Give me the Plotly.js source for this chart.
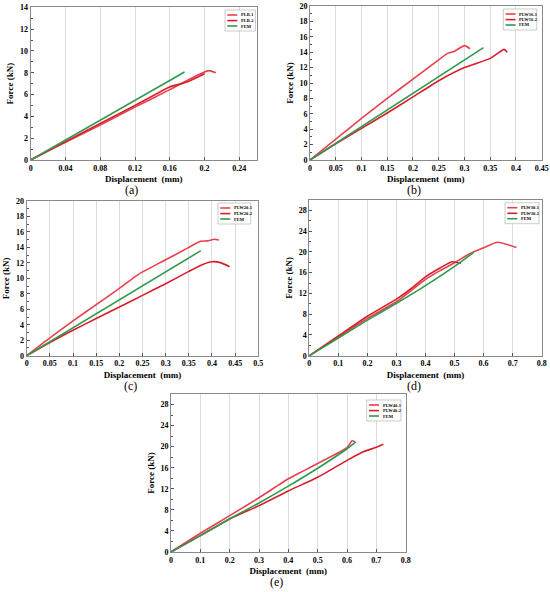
<!DOCTYPE html>
<html>
<head>
<meta charset="utf-8">
<script src="https://cdn.plot.ly/plotly-3.0.1.min.js"></script>
<style>html,body{margin:0;padding:0;background:#fff;}#chart{width:550px;height:592px;}</style>
</head>
<body>
<div id="chart"></div>
<script>
// ---- (a) PLB ----
const aNames = ['PLB-1', 'PLB-2', 'FEM'];
const aX1 = [0, 0.02, 0.04, 0.08, 0.12, 0.16, 0.19, 0.205, 0.213];
const aY1 = [0, 0.82, 1.62, 3.2, 4.85, 6.45, 7.7, 8.19, 8.0];
const aX2 = [0, 0.02, 0.04, 0.08, 0.12, 0.16, 0.18, 0.2];
const aY2 = [0, 0.85, 1.68, 3.35, 5.0, 6.7, 7.15, 7.9];
const aXF = [0, 0.177];
const aYF = [0, 8.07];
// ---- (b) PLW16 ----
const bNames = ['PLW16-1', 'PLW16-2', 'FEM'];
const bX1 = [0, 0.05, 0.1, 0.15, 0.2, 0.25, 0.267, 0.28, 0.3, 0.311];
const bY1 = [0, 2.7, 5.4, 8.0, 10.5, 13.0, 13.85, 14.1, 14.85, 14.45];
const bX2 = [0, 0.05, 0.1, 0.15, 0.2, 0.25, 0.3, 0.35, 0.377, 0.383];
const bY2 = [0, 2.1, 4.1, 6.1, 8.2, 10.3, 12.0, 13.2, 14.37, 14.0];
const bXF = [0, 0.337];
const bYF = [0, 14.6];
// ---- (c) PLW20 ----
const cNames = ['PLW20-1', 'PLW20-2', 'FEM'];
const cX1 = [0, 0.05, 0.1, 0.15, 0.2, 0.242, 0.3, 0.35, 0.375, 0.39, 0.405, 0.415];
const cY1 = [0, 2.3, 4.5, 6.6, 8.7, 10.55, 12.4, 14.0, 14.8, 14.85, 15.05, 14.95];
const cX2 = [0, 0.05, 0.1, 0.15, 0.2, 0.25, 0.3, 0.35, 0.38, 0.4, 0.42, 0.438];
const cY2 = [0, 1.7, 3.3, 4.8, 6.3, 7.8, 9.3, 10.9, 11.8, 12.15, 12.0, 11.5];
const cXF = [0, 0.376];
const cYF = [0, 13.58];
// ---- (d) PLW30 ----
const dNames = ['PLW30-1', 'PLW30-2', 'FEM'];
const dX1 = [0, 0.1, 0.2, 0.3, 0.35, 0.4, 0.45, 0.5, 0.55, 0.6, 0.648, 0.713];
const dY1 = [0, 3.6, 7.2, 10.4, 12.5, 14.7, 16.4, 17.9, 19.6, 20.8, 21.85, 20.85];
const dX2 = [0, 0.1, 0.2, 0.3, 0.35, 0.4, 0.45, 0.491, 0.522];
const dY2 = [0, 3.8, 7.6, 10.9, 12.9, 15.2, 16.9, 18.1, 17.8];
const dXF = [0, 0.1, 0.2, 0.3, 0.4, 0.5, 0.566];
const dYF = [0, 3.4, 6.85, 10.1, 13.5, 17.2, 19.9];
// ---- (e) PLW40 ----
const eNames = ['PLW40-1', 'PLW40-2', 'FEM'];
const eX1 = [0, 0.1, 0.2, 0.3, 0.4, 0.45, 0.5, 0.6, 0.617, 0.627];
const eY1 = [0, 3.55, 6.9, 10.3, 13.9, 15.35, 16.8, 19.8, 21.1, 20.95];
const eX2 = [0, 0.1, 0.2, 0.3, 0.4, 0.5, 0.6, 0.65, 0.7, 0.724];
const eY2 = [0, 3.1, 6.26, 8.8, 11.6, 14.2, 17.4, 18.9, 19.9, 20.45];
const eXF = [0, 0.1, 0.2, 0.3, 0.4, 0.5, 0.6, 0.63];
const eYF = [0, 3.1, 6.3, 9.3, 12.5, 15.9, 19.6, 20.9];

const panelLabels = ['(a)', '(b)', '(c)', '(d)', '(e)'];

const C1 = '#e8414d', C2 = '#d81e2a', CF = '#2e9a4f';
const FONT = 'Liberation Serif, Times New Roman, serif';

const panels = [
  {names: aNames, s: [[aX1, aY1], [aX2, aY2], [aXF, aYF]], xr: [0, 0.26], xd: 0.04, yr: [0, 14], yd: 2,
   dom: [30.7, 256.7, 7.3, 160], leg: [225, 10, 30.5]},
  {names: bNames, s: [[bX1, bY1], [bX2, bY2], [bXF, bYF]], xr: [0, 0.45], xd: 0.05, yr: [0, 20], yd: 2,
   dom: [310, 541.7, 6, 160], leg: [503.3, 9, 33.4]},
  {names: cNames, s: [[cX1, cY1], [cX2, cY2], [cXF, cYF]], xr: [0, 0.5], xd: 0.05, yr: [0, 20], yd: 2,
   dom: [26.7, 258.3, 201, 355.7], leg: [218, 203, 32.7]},
  {names: dNames, s: [[dX1, dY1], [dX2, dY2], [dXF, dYF]], xr: [0, 0.8], xd: 0.1, yr: [0, 30], yd: 4,
   dom: [309.3, 541.7, 200, 355.7], leg: [505, 202.7, 34]},
  {names: eNames, s: [[eX1, eY1], [eX2, eY2], [eXF, eYF]], xr: [0, 0.8], xd: 0.1, yr: [0, 30], yd: 4,
   dom: [171, 405.7, 394, 552], leg: [366.7, 400, 34.3]}
];

const W = 550, H = 592;
const px = v => v / W, py = v => 1 - v / H;
const traces = [];
const layout = {
  width: W, height: H,
  margin: {l: 0, r: 0, t: 0, b: 0},
  paper_bgcolor: '#fff', plot_bgcolor: '#fff',
  font: {family: FONT, color: '#000'},
  annotations: [], shapes: [], showlegend: false
};
const colors = [C1, C2, CF];

panels.forEach((p, i) => {
  const n = i + 1;
  const xa = n === 1 ? 'x' : 'x' + n;
  const ya = n === 1 ? 'y' : 'y' + n;
  p.s.forEach((ser, k) => {
    traces.push({
      x: ser[0], y: ser[1], type: 'scatter', mode: 'lines',
      name: p.names[k], xaxis: xa, yaxis: ya,
      line: {color: colors[k], width: 1.6, shape: 'spline', smoothing: 0.5}
    });
  });
  const common = {
    showline: true, mirror: true, linecolor: '#8a8a8a', linewidth: 1,
    ticks: 'inside', ticklen: 3, tickcolor: '#555', tickwidth: 1,
    tickfont: {family: FONT, size: 8, color: '#000', weight: 'bold'},
    zeroline: false, fixedrange: true
  };
  layout['xaxis' + (n === 1 ? '' : n)] = Object.assign({}, common, {
    domain: [px(p.dom[0]), px(p.dom[1])], anchor: ya,
    range: p.xr, dtick: p.xd, tick0: 0,
    showgrid: true, gridcolor: '#dcdcdc', gridwidth: 1,
    title: {text: 'Displacement  (mm)', font: {family: FONT, size: 9, color: '#000', weight: 'bold'}, standoff: 4}
  });
  layout['yaxis' + (n === 1 ? '' : n)] = Object.assign({}, common, {
    domain: [py(p.dom[3]), py(p.dom[2])], anchor: xa,
    range: p.yr, dtick: p.yd, tick0: 0, showgrid: false,
    minor: {ticks: 'inside', ticklen: 2, dtick: p.yd / 2, tickcolor: '#555', showgrid: false},
    title: {text: 'Force (kN)', font: {family: FONT, size: 9, color: '#000', weight: 'bold'}, standoff: 4}
  });
  // legend box (drawn as shapes + text)
  const L = p.leg[0], T = p.leg[1], Wd = p.leg[2], Ht = 21;
  layout.shapes.push({
    type: 'rect', xref: 'paper', yref: 'paper',
    x0: px(L), x1: px(L + Wd), y0: py(T + Ht), y1: py(T),
    line: {color: '#aaa', width: 0.6}, fillcolor: '#fff', layer: 'above'
  });
  [5, 10.6, 16].forEach((dy, k) => {
    layout.shapes.push({
      type: 'line', xref: 'paper', yref: 'paper',
      x0: px(L + 2.3), x1: px(L + 12.3), y0: py(T + dy), y1: py(T + dy),
      line: {color: colors[k], width: 1.6}, layer: 'above'
    });
    layout.annotations.push({
      text: p.names[k], xref: 'paper', yref: 'paper',
      x: px(L + 13.8), y: py(T + dy), xanchor: 'left', yanchor: 'middle',
      showarrow: false, font: {family: FONT, size: 4.5, color: '#000', weight: 'bold'}
    });
  });
  layout.annotations.push({
    text: panelLabels[i], xref: 'paper', yref: 'paper',
    x: px((p.dom[0] + p.dom[1]) / 2 - 12), y: py(p.dom[3] + 30),
    xanchor: 'center', yanchor: 'middle', showarrow: false,
    font: {family: FONT, size: 12, color: '#000'}
  });
});

Plotly.newPlot('chart', traces, layout, {displayModeBar: false, staticPlot: true});
</script>
</body>
</html>
